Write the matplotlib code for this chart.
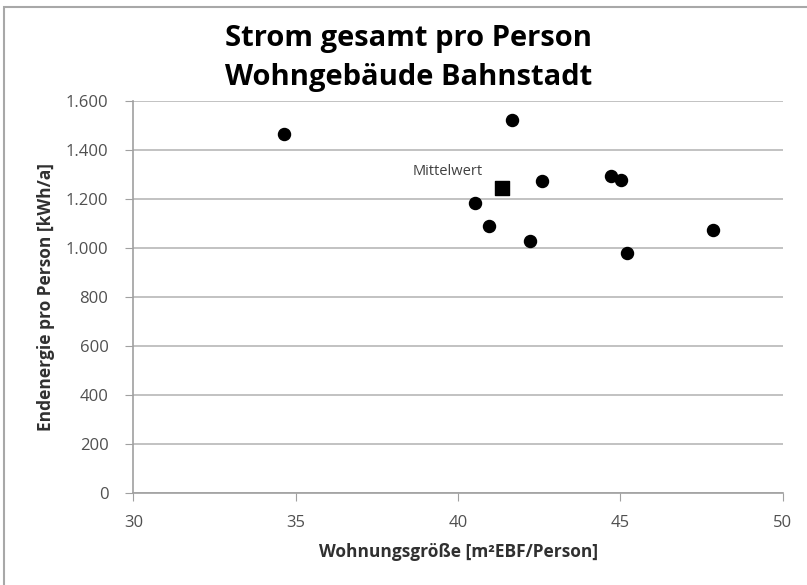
import matplotlib

matplotlib.use("Agg")

import matplotlib.pyplot as plt
from matplotlib.patches import Rectangle
from matplotlib.ticker import FuncFormatter, MultipleLocator

# Wohnungsgröße [m² EBF/Person] vs. Endenergie [kWh/a]
wohnflaeche = [34.64, 41.65, 40.52, 40.95, 42.2, 42.58, 44.71, 45.02, 45.21, 47.84]
endenergie = [1464, 1521, 1181, 1090, 1027, 1273, 1293, 1276, 980, 1071]
mittel_x = [41.35]
mittel_y = [1242]

plt.rcParams["font.family"] = ["Open Sans", "DejaVu Sans"]

fig = plt.figure(figsize=(8.07, 5.85), dpi=100)
ax = fig.add_axes([0.1654, 0.1578, 0.8045, 0.6701])

ax.scatter(wohnflaeche, endenergie, s=75, color="black", marker="o", zorder=3)
ax.scatter(mittel_x, mittel_y, s=90, color="black", marker="s", zorder=3)
ax.annotate("Mittelwert", (mittel_x[0], mittel_y[0]), xytext=(-64, 10),
            textcoords="offset points", fontsize=10.5, color="#404040")

ax.set_xlim(30, 50)
ax.set_ylim(0, 1600)
ax.xaxis.set_major_locator(MultipleLocator(5))
ax.yaxis.set_major_locator(MultipleLocator(200))
ax.yaxis.set_major_formatter(FuncFormatter(lambda v, p: f"{int(v):,}".replace(",", ".")))

ax.grid(axis="y", color="#b8b8b8", linewidth=1.2)
ax.set_axisbelow(True)
for side in ["top", "right"]:
    ax.spines[side].set_visible(False)
for side in ["left", "bottom"]:
    ax.spines[side].set_color("#a0a0a0")
    ax.spines[side].set_linewidth(1.2)
ax.tick_params(axis="both", colors="#a0a0a0", labelcolor="#505050", labelsize=12,
               length=6, direction="out")
ax.tick_params(axis="y", pad=12)
ax.tick_params(axis="x", pad=10)

ax.set_xlabel("Wohnungsgröße [m²EBF/Person]", fontsize=12.5, fontweight="bold",
              color="#303030", labelpad=9)
ax.set_ylabel("Endenergie pro Person [kWh/a]", fontsize=12.5, fontweight="bold",
              color="#303030", labelpad=8)

fig.text(0.506, 0.935, "Strom gesamt pro Person", ha="center", va="center",
         fontsize=21, fontweight="bold", color="black")
fig.text(0.506, 0.868, "Wohngebäude Bahnstadt", ha="center", va="center",
         fontsize=21, fontweight="bold", color="black")

fig.patches.append(Rectangle((0.005, -0.01), 1.0, 0.998, transform=fig.transFigure,
                             fill=False, edgecolor="#a8a8a8", linewidth=1.5))

fig.savefig("out.png", dpi=100)
plt.close(fig)
